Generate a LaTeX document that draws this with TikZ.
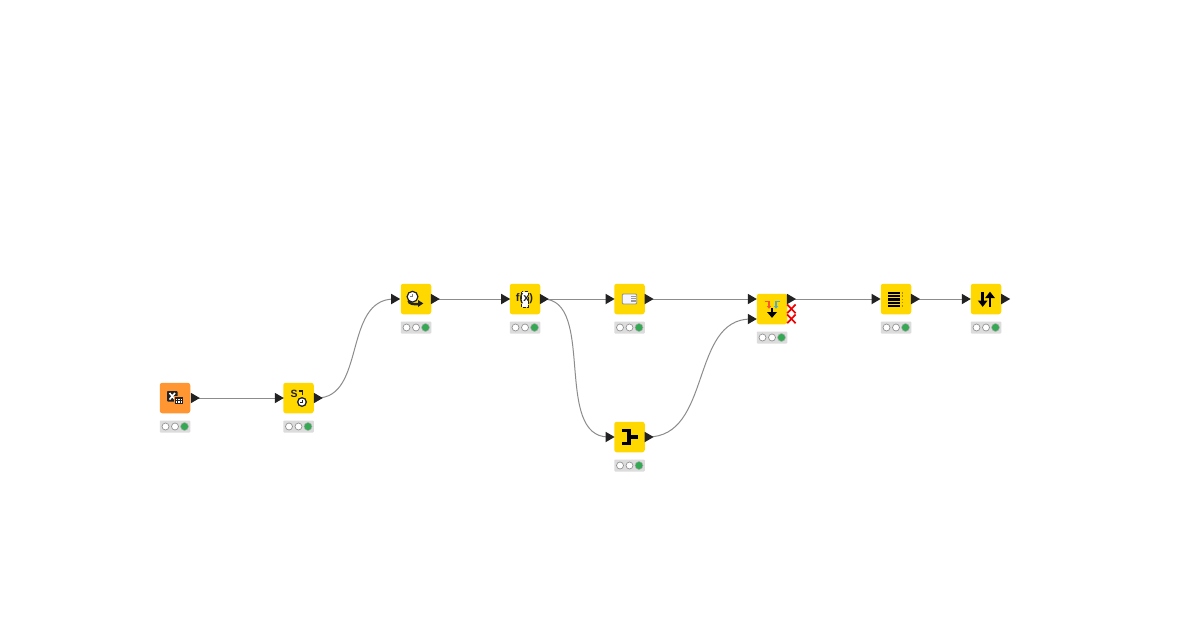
\documentclass[tikz,border=0pt]{standalone}
\usepackage{fontspec}
\setmainfont{Liberation Sans}
\usetikzlibrary{shapes.geometric,backgrounds}
\definecolor{knimeyellow}{HTML}{FFD800}
\definecolor{knimeorange}{HTML}{FF9632}
\definecolor{statusgray}{HTML}{DCDCDC}
\definecolor{lampgreen}{HTML}{34A853}
\definecolor{wiregray}{HTML}{8C8C8C}
\definecolor{portblack}{HTML}{222222}
\tikzset{
  x=1pt,y=-1pt,
  knode/.style={rectangle,rounded corners=2.5pt,minimum size=30.5pt,inner sep=0pt,outer sep=0pt,fill=knimeyellow},
  knodeor/.style={knode,fill=knimeorange},
  kport/.style={isosceles triangle,isosceles triangle apex angle=64,isosceles triangle stretches,minimum height=9pt,minimum width=10.5pt,inner sep=0pt,outer sep=0pt,fill=portblack},
  kwire/.style={draw=wiregray,line width=1pt},
  kbar/.style={rectangle,fill=statusgray,minimum width=30.5pt,minimum height=12pt,inner sep=0pt,outer sep=0pt,rounded corners=0.8pt},
  klamp/.style={circle,draw=gray!85,fill=white,line width=0.7pt,minimum size=7pt,inner sep=0pt,outer sep=0pt},
  kgreen/.style={circle,draw=gray!60,fill=lampgreen,line width=0.5pt,minimum size=8pt,inner sep=0pt,outer sep=0pt},
}
% #1 name, #2 x, #3 y  : traffic light below a node
\newcommand{\kstatus}[3]{%
  \node[kbar] (#1bar) at (#2,#3+28.5) {};
  \node[klamp] (#1l1) at (#2-9.5,#3+28.5) {};
  \node[klamp] (#1l2) at (#2,#3+28.5) {};
  \node[kgreen] (#1l3) at (#2+9.5,#3+28.5) {};
}
\begin{document}
\begin{tikzpicture}
\useasboundingbox (0,0) rectangle (1200,630);

% nodes
\node[knodeor] (xl) at (175,398) {};
\node[knode] (sd) at (298.5,398) {};
\node[knode] (dt) at (416,299) {};
\node[knode] (fx) at (525,299) {};
\node[knode] (cf) at (629.5,299) {};
\node[knode] (jn) at (629.5,437) {};
\node[knode] (cc) at (772,309) {};
\node[knode] (rf) at (896,299) {};
\node[knode] (st) at (986,299) {};

% ports
\node[kport] (xlo) at (193.8,398) {};
\node[kport] (sdi) at (277.8,398) {};
\node[kport] (sdo) at (316.8,398) {};
\node[kport] (dti) at (394.2,299) {};
\node[kport] (dto) at (433.8,299) {};
\node[kport] (fxi) at (504.2,299) {};
\node[kport] (fxo) at (542.8,299) {};
\node[kport] (cfi) at (608.6,299) {};
\node[kport] (cfo) at (647.6,299) {};
\node[kport] (jni) at (608.6,437) {};
\node[kport] (jno) at (647.6,437) {};
\node[kport] (cci) at (750.8,299) {};
\node[kport] (ccj) at (750.8,319) {};
\node[kport] (cco) at (790,299) {};
\node[kport] (rfi) at (874.6,299) {};
\node[kport] (rfo) at (914,299) {};
\node[kport] (sti) at (964.8,299) {};
\node[kport] (sto) at (1004.2,299) {};

% connectors
\begin{pgfonlayer}{background}
\fill[white] (0,0) rectangle (1200,630);
\draw[kwire] (xlo.center) -- (sdi.center);
\draw[kwire] (sdo.center) .. controls (366,398) and (343,299) .. (dti.center);
\draw[kwire] (dto.center) -- (fxi.center);
\draw[kwire] (fxo.center) -- (cfi.center);
\draw[kwire] (fxo.center) .. controls (596,299) and (553,437) .. (jni.center);
\draw[kwire] (cfo.center) -- (cci.center);
\draw[kwire] (jno.center) .. controls (712,437) and (690,319) .. (ccj.center);
\draw[kwire] (cco.center) -- (rfi.center);
\draw[kwire] (rfo.center) -- (sti.center);
\end{pgfonlayer}

% status bars
\kstatus{xl}{175}{398}
\kstatus{sd}{298.5}{398}
\kstatus{dt}{416}{299}
\kstatus{fx}{525}{299}
\kstatus{cf}{629.5}{299}
\kstatus{jn}{629.5}{437}
\kstatus{cc}{772}{309}
\kstatus{rf}{896}{299}
\kstatus{st}{986}{299}

% icon: excel reader
\fill[portblack,rounded corners=0.8pt] (167,391) rectangle (177.5,401.5);
\draw[white,line width=1.6pt] (169.5,393) -- (175,399.5) (175,393) -- (169.5,399.5);
\fill[knimeorange] (173.5,395.5) rectangle (184,405);
\fill[portblack] (174.5,396.5) rectangle (183.2,404.4);
\foreach \i in {176.3,178.8,181.3} \foreach \j in {399.3,402.2} \fill[white] (\i-0.8,\j-0.8) rectangle (\i+0.8,\j+0.8);

% icon: string to date
\node[font=\bfseries\fontsize{10.5pt}{10.5pt}\selectfont,text=portblack,inner sep=0pt] (sds) at (294,393.5) {S};
\draw[portblack,line width=1.5pt] (298.5,391) -- (302.7,391) -- (302.7,395);
\draw[portblack,line width=1.3pt,fill=white] (302,402) circle (4.3);
\draw[portblack,line width=0.8pt] (302,399.5) -- (302,402) -- (300,402);

% icon: date shift
\draw[portblack,line width=1.2pt,fill=white] (412.5,296.7) circle (5.4);
\draw[gray,line width=0.8pt] (412.5,293.8) -- (412.5,296.7) -- (410,296.7);
\draw[portblack,line width=2.4pt] (408.5,300.5) .. controls (409,304) and (413,304.5) .. (419,304);
\fill[portblack] (418,300) -- (423.3,303.4) -- (418,307) -- cycle;

% icon: f(x)
\fill[white] (521.8,291.8) rectangle (528.2,307.2);
\draw[portblack,line width=0.9pt,dash pattern=on 2.6pt off 1.6pt] (521.8,291.8) rectangle (528.2,307.2);
\node[font=\bfseries\fontsize{11pt}{11pt}\selectfont,text=portblack,inner sep=0pt] (fxt) at (524.5,299) {f(x)};

% icon: column filter
\fill[draw=black!45,fill=blue!4,rounded corners=1pt,line width=0.8pt] (622.3,294) rectangle (636.8,304);
\foreach \j in {296.4,298.2,300,301.8} \draw[gray!80,line width=0.8pt] (631,\j) -- (635.5,\j);

% icon: joiner
\draw[black,line width=3.6pt] (621.8,430.4) -- (629,430.4) -- (629,443.3) -- (621.8,443.3) (629,436.8) -- (637.5,436.8);

% icon: concatenate
\draw[red!70!orange!80,line width=1.2pt] (764.5,301.8) -- (769,301.8) -- (769,306.5);
\fill[red!70!orange!80] (766.8,306) -- (771.2,306) -- (769,308.8) -- cycle;
\draw[cyan!60!gray,line width=1.2pt] (780,301.8) -- (776,301.8) -- (776,306.5);
\fill[cyan!60!gray] (773.8,306) -- (778.2,306) -- (776,308.8) -- cycle;
\draw[black,line width=2.2pt] (772,308) -- (772,313);
\fill[black] (767,312) -- (777,312) -- (772,317.8) -- cycle;

% red crosses on concatenate
\draw[red!95!black,line width=1.7pt]
  (787.2,304.5) -- (795.6,313.2) (795.6,304.5) -- (787.2,313.2)
  (787.2,314.5) -- (795.6,323.2) (795.6,314.5) -- (787.2,323.2);

% icon: row filter
\foreach \j in {293,296.2,299.4,302.6,305.8} \draw[black,line width=2.2pt] (888.3,\j) -- (900,\j);
\foreach \j in {293,296.2,299.4,302.6,305.8} \draw[black!35!knimeyellow,line width=1.6pt] (901.6,\j) -- (903,\j);

% icon: sorter
\draw[black,line width=2.6pt] (982.7,292) -- (982.7,302);
\fill[black] (977.8,300.5) -- (987.6,300.5) -- (982.7,306.8) -- cycle;
\draw[black,line width=2.6pt] (990,297) -- (990,306.5);
\fill[black] (985.1,298) -- (994.9,298) -- (990,291.7) -- cycle;
\end{tikzpicture}
\end{document}
